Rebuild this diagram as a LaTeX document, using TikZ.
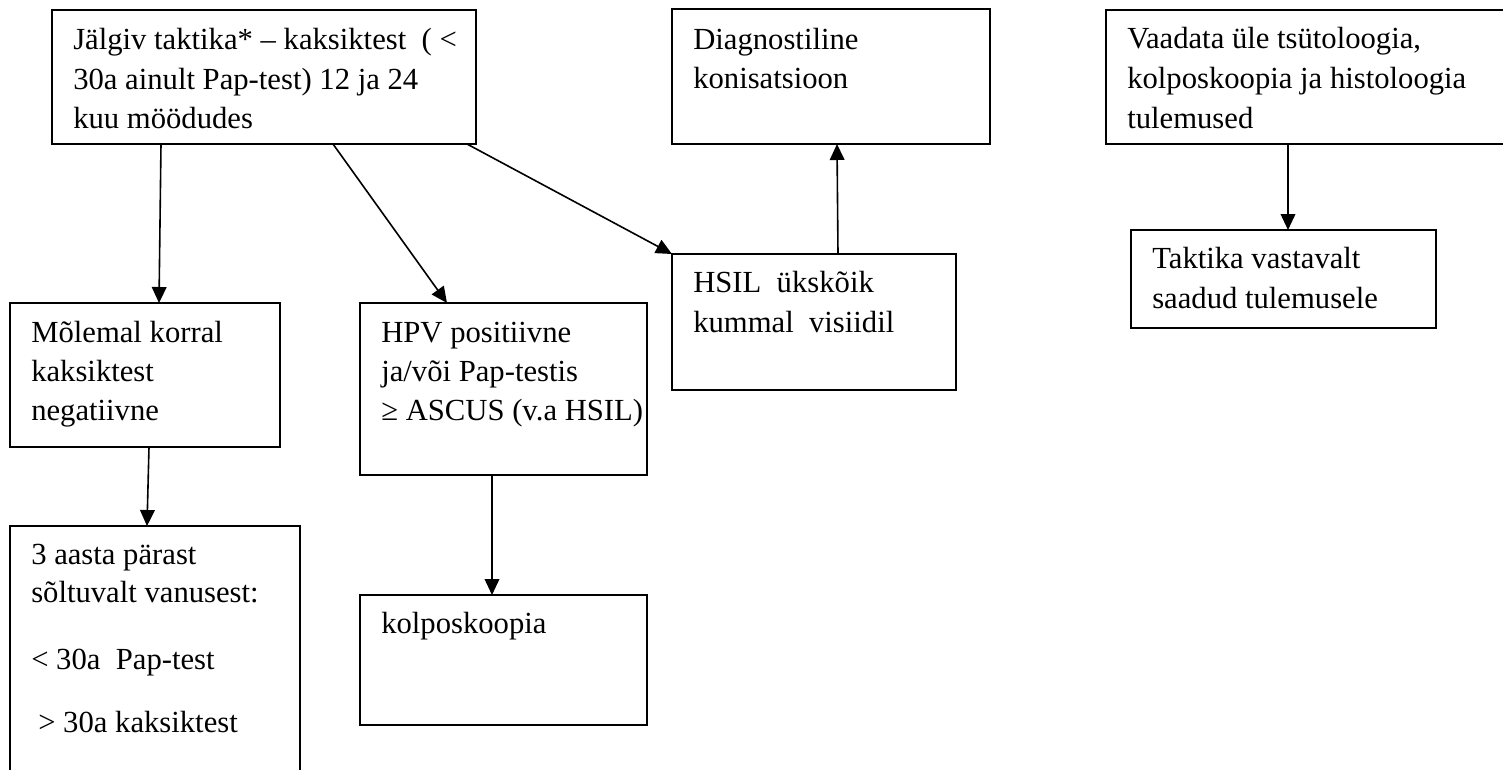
\documentclass[tikz,border=0pt]{standalone}
\usepackage{fontspec}
\setmainfont{Liberation Serif}
\usetikzlibrary{arrows.meta,fit,calc}
\begin{document}
\begin{tikzpicture}[x=0.75pt,y=-0.75pt,
  box/.style={draw, line width=1.5pt, inner sep=0pt, outer sep=0pt},
  txt/.style={anchor=base west, inner sep=0pt, font=\fontsize{23}{30}\selectfont},
  link/.style={line width=1.2pt, -{Triangle[length=12pt,width=11pt]}}]
\clip (0,0) rectangle (1503,769);
\fill[white] (0,0) rectangle (1503,769);

% boxes
\node[box, fit={(52,10) (476,144)}]    (A) {};
\node[box, fit={(672,9) (990,144)}]    (D) {};
\node[box, fit={(1106,10) (1530,144)}] (V) {};
\node[box, fit={(672,254) (956,390)}]  (S) {};
\node[box, fit={(10,303) (280,447)}]   (M) {};
\node[box, fit={(360,303) (647,475)}]  (H) {};
\node[box, fit={(10,526) (300,800)}]   (P) {};
\node[box, fit={(360,595) (647,725)}]  (K) {};
\node[box, fit={(1131,230) (1436,328)}] (T) {};

% box texts
\node[txt] (a1) at (73,49)  {Jälgiv taktika* – kaksiktest\ \ ( <};
\node[txt] (a2) at (73,89)  {30a ainult Pap-test) 12 ja 24};
\node[txt] (a3) at (73,128) {kuu möödudes};

\node[txt] (d1) at (693,49) {Diagnostiline};
\node[txt] (d2) at (693,88) {konisatsioon};

\node[txt] (v1) at (1127,48)  {Vaadata üle tsütoloogia,};
\node[txt] (v2) at (1127,88)  {kolposkoopia ja histoloogia};
\node[txt] (v3) at (1127,128) {tulemused};

\node[txt] (t1) at (1152,268) {Taktika vastavalt};
\node[txt] (t2) at (1152,308) {saadud tulemusele};

\node[txt] (s1) at (693,292) {HSIL\ \ ükskõik};
\node[txt] (s2) at (693,332) {kummal\ \ visiidil};

\node[txt] (m1) at (31,342) {Mõlemal korral};
\node[txt] (m2) at (31,381) {kaksiktest};
\node[txt] (m3) at (31,420) {negatiivne};

\node[txt] (h1) at (381,342) {HPV positiivne};
\node[txt] (h2) at (381,381) {ja/või Pap-testis};
\node[txt] (h3) at (381,420) {≥ ASCUS (v.a HSIL)};

\node[txt] (k1) at (381,633) {kolposkoopia};

\node[txt] (p1) at (31,564) {3 aasta pärast};
\node[txt] (p2) at (31,602) {sõltuvalt vanusest:};
\node[txt] (p3) at (31,669) {< 30a\ \ Pap-test};
\node[txt] (p4) at (38,732) {> 30a kaksiktest};

% connectors
\draw[link] ($(A.south west)+(109,0)$) -- ($(M.north west)+(149,0)$);
\draw[link] ($(A.south west)+(281,0)$) -- ($(H.north west)+(87,0)$);
\draw[link] ($(A.south east)+(-9,0)$)  -- (S.north west);
\draw[link] ($(S.north west)+(166,0)$) -- ($(D.south west)+(165,0)$);
\draw[link] ($(M.south west)+(139,0)$) -- ($(P.north west)+(137,0)$);
\draw[link] ($(H.south west)+(132,0)$) -- ($(K.north west)+(132,0)$);
\draw[link] ($(V.south west)+(182,0)$) -- ($(T.north west)+(157,0)$);
\end{tikzpicture}
\end{document}
